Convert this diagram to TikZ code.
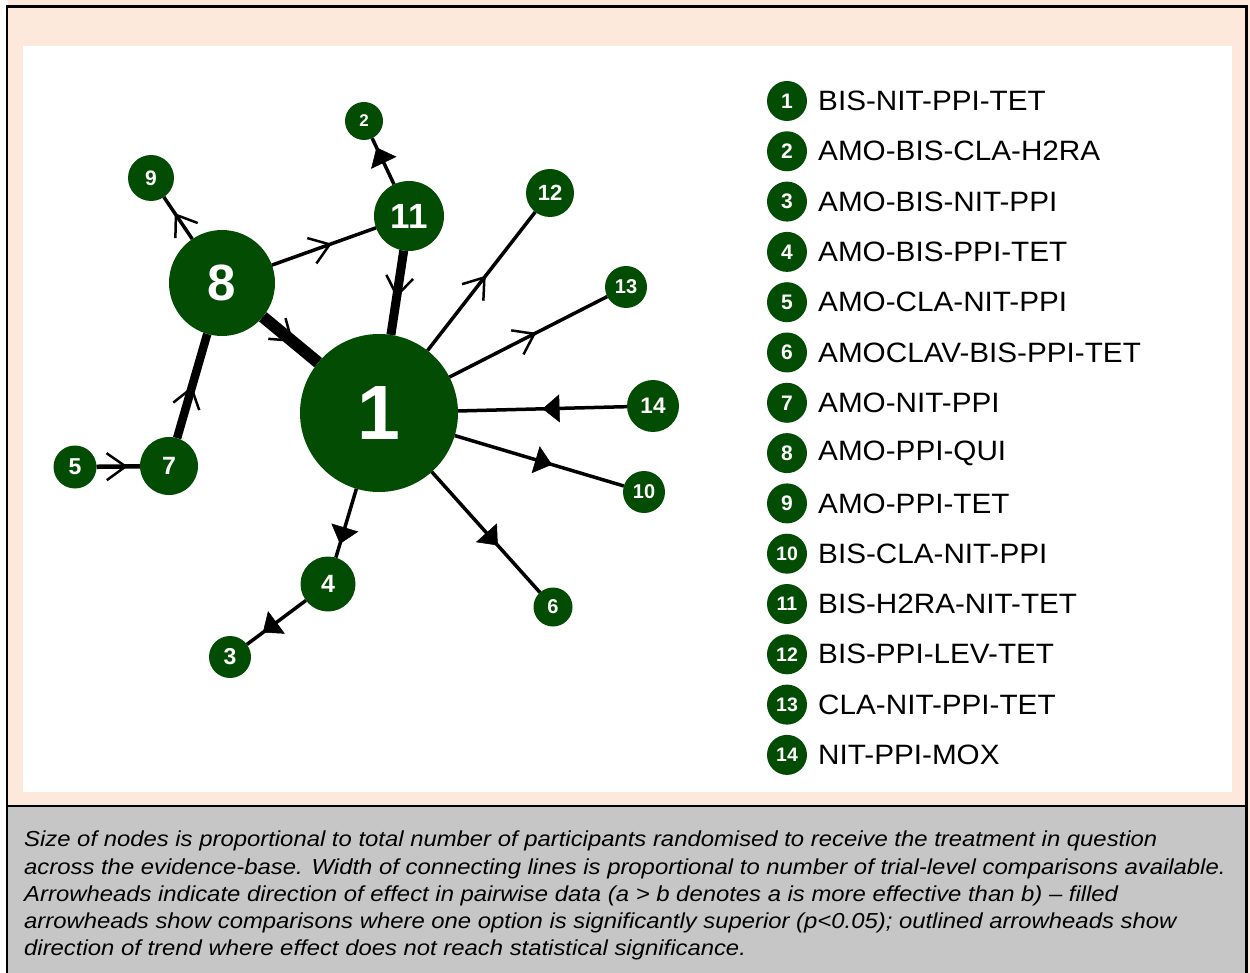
\documentclass[tikz,border=0pt]{standalone}
\usepackage{fontspec}
\setmainfont{Liberation Sans}
\newfontfamily\capfont{Liberation Sans}[FakeStretch=1.1]
\newfontfamily\lgfont{Liberation Sans}[FakeStretch=1.06]
\usetikzlibrary{arrows.meta,decorations.markings}
\definecolor{dkg}{RGB}{3,76,3}
\definecolor{peach}{RGB}{252,233,219}
\definecolor{capgray}{RGB}{198,198,198}
\pgfdeclarelayer{back}
\pgfdeclarelayer{edges}
\pgfsetlayers{back,edges,main}
\tikzset{
  tn/.style 2 args={circle, fill=dkg, text=white, inner sep=0pt, outer sep=0pt,
    minimum size=#1pt, font=\fontsize{#2}{#2}\selectfont\bfseries},
  ed/.style={draw=black, line width=#1},
  chev/.style={postaction={decorate, decoration={markings,
    mark=at position #1 with {\arrow{Straight Barb[length=19pt,width=27pt,line width=2.5pt]}}}}},
  tri/.style={postaction={decorate, decoration={markings,
    mark=at position #1 with {\arrow{Triangle[length=17pt,width=28pt,line width=0.5pt]}}}}},
  lgnum/.style={circle, fill=dkg, text=white, inner sep=0pt, minimum size=40pt,
    font=\fontsize{#1}{#1}\selectfont\bfseries},
  lgtxt/.style={anchor=west, inner sep=0pt, font=\lgfont\fontsize{28}{28}\selectfont},
}
\begin{document}
\begin{tikzpicture}[x=1pt,y=-1pt]
\useasboundingbox (0,0) rectangle (1250,973);
\begin{pgfonlayer}{back}
  \fill[peach] (8,0) rectangle (1250,973);
  \fill[white] (23,46) rectangle (1232,792);
  \fill[capgray] (7,806) rectangle (1246,973);
  \draw[line width=2.5pt] (7,973) -- (7,6.5) -- (1246.5,6.5) -- (1246.5,973);
  \draw[line width=1.5pt] (7,806) -- (1246.5,806);
\end{pgfonlayer}

% nodes
\node[tn={158}{77}] (n1) at (379,413) {1};
\node[tn={106}{51}] (n8) at (222,283) {8};
\node[tn={70}{35}] (n11) at (409,216) {11};
\node[tn={58}{25}] (n7) at (169,466) {7};
\node[tn={55}{25}] (n4) at (328,584) {4};
\node[tn={38}{17}] (n2) at (364,121) {2};
\node[tn={46}{21}] (n9) at (151,178) {9};
\node[tn={48}{22}] (n12) at (550,193) {12};
\node[tn={42}{20}] (n13) at (626,287) {13};
\node[tn={52}{22.5}] (n14) at (653,406) {14};
\node[tn={42}{20}] (n10) at (644,492) {10};
\node[tn={39}{20}] (n6) at (553,607) {6};
\node[tn={43}{23}] (n5) at (75,467) {5};
\node[tn={42}{23}] (n3) at (230,657) {3};

% edges
\begin{pgfonlayer}{edges}
  \draw[ed=12pt, chev=0.55] (n8) -- (n1);
  \draw[ed=9pt, chev=0.56] (n11) -- (n1);
  \draw[ed=8.5pt, chev=0.50] (n7) -- (n8);
  \draw[ed=3.5pt, chev=0.575] (n8) -- (n11);
  \draw[ed=3.5pt, chev=0.62] (n8) -- (n9);
  \draw[ed=3.5pt, tri=0.80] (n11) -- (n2);
  \draw[ed=4.5pt, chev=0.72] (n5) -- (n7);
  \draw[ed=3.5pt, tri=0.80] (n1) -- (n4);
  \draw[ed=3.5pt, tri=0.73] (n4) -- (n3);
  \draw[ed=3.5pt, chev=0.54] (n1) -- (n12);
  \draw[ed=3.5pt, chev=0.55] (n1) -- (n13);
  \draw[ed=3.5pt, tri=0.50] (n14) -- (n1);
  \draw[ed=3.5pt, tri=0.575] (n1) -- (n10);
  \draw[ed=3.5pt, tri=0.61] (n1) -- (n6);
\end{pgfonlayer}

% legend
\foreach \i/\t/\f in {1/BIS-NIT-PPI-TET/21, 2/AMO-BIS-CLA-H2RA/21, 3/AMO-BIS-NIT-PPI/21,
  4/AMO-BIS-PPI-TET/21, 5/AMO-CLA-NIT-PPI/21, 6/AMOCLAV-BIS-PPI-TET/21, 7/AMO-NIT-PPI/21,
  8/AMO-PPI-QUI/21, 9/AMO-PPI-TET/21, 10/BIS-CLA-NIT-PPI/19.5, 11/BIS-H2RA-NIT-TET/19.5,
  12/BIS-PPI-LEV-TET/19.5, 13/CLA-NIT-PPI-TET/19.5, 14/NIT-PPI-MOX/19.5}{
  \node[lgnum=\f] (l\i) at (787,{101+(\i-1)*50.3}) {\i};
  \node[lgtxt] (t\i) at (818,{101+(\i-1)*50.3}) {\t};
}

% caption
\node[anchor=north west, align=left, inner sep=0pt,
  font=\capfont\itshape\fontsize{21.7}{27.1}\selectfont] (cap) at (24,831)
{Size of nodes is proportional to total number of participants randomised to receive the treatment in question\\
across the evidence-base. Width of connecting lines is proportional to number of trial-level comparisons available.\\
Arrowheads indicate direction of effect in pairwise data (a > b denotes a is more effective than b) – filled\\
arrowheads show comparisons where one option is significantly superior (p<0.05); outlined arrowheads show\\
direction of trend where effect does not reach statistical significance.};
\end{tikzpicture}
\end{document}
